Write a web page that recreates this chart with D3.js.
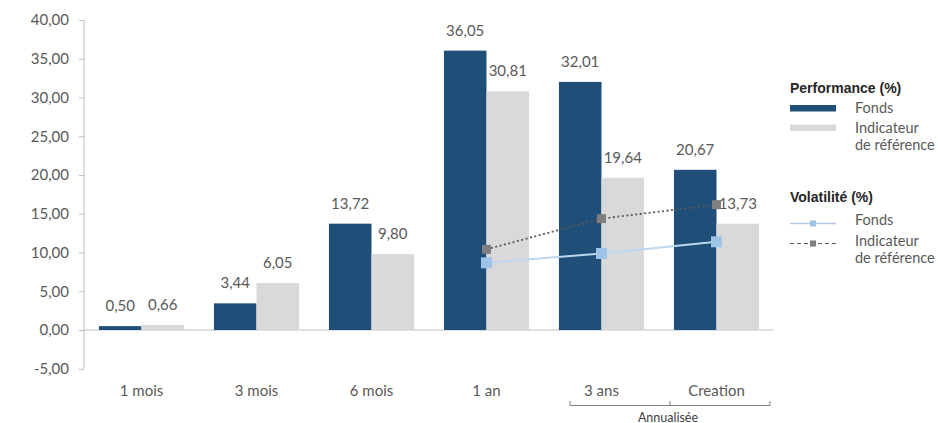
<!DOCTYPE html>
<html>
<head>
<meta charset="utf-8">
<script src="https://cdn.jsdelivr.net/npm/d3@7"></script>
<style>
  html, body { margin: 0; padding: 0; background: #fff; }
  svg { display: block; }
</style>
</head>
<body>
<svg id="chart" width="938" height="423"></svg>
<script>
// Periods shown on the x axis
const categories = ["1 mois", "3 mois", "6 mois", "1 an", "3 ans", "Creation"];
// Performance (%) per period
const perfFonds = [0.50, 3.44, 13.72, 36.05, 32.01, 20.67];
const perfIndicateur = [0.66, 6.05, 9.80, 30.81, 19.64, 13.73];
// Volatility (%) — only reported from 1 year onward
const volFonds = [null, null, null, 8.67, 9.87, 11.38];
const volIndicateur = [null, null, null, 10.41, 14.37, 16.17];
// Y axis ticks
const yTicks = [-5, 0, 5, 10, 15, 20, 25, 30, 35, 40];

const fmt = v => v.toFixed(2).replace(".", ",");
const FONT = "Lato, 'Open Sans', sans-serif";
const TXT = "#595959";
const C_FONDS = "#1f4e79";
const C_IND = "#d9d9d9";
const C_VOLF = "#9dc3e6";
const C_VOLI = "#7f7f7f";

const svg = d3.select("#chart");

const x = d3.scaleBand().domain(categories).range([84, 774]).paddingInner(0.26).paddingOuter(0.13);
const x0 = d3.scaleBand().domain(categories).range([84, 774]);
const sub = d3.scaleBand().domain(["f", "i"]).range([0, x.bandwidth()]);
const y = d3.scaleLinear().domain([-5, 40]).range([368.75, 20]);

// Y axis
const yAxis = svg.append("g").attr("transform", "translate(84,0)")
  .call(d3.axisLeft(y).tickValues(yTicks).tickFormat(fmt).tickSize(5).tickPadding(10));
yAxis.select(".domain").attr("stroke", "#bfbfbf").attr("d", `M0,${y(-5)}V${y(40)}`);
yAxis.selectAll(".tick line").attr("stroke", "#bfbfbf");
yAxis.selectAll(".tick text").attr("fill", TXT).style("font-family", FONT).style("font-size", "15px");

// Zero baseline
svg.append("line").attr("x1", 84).attr("x2", 774).attr("y1", y(0)).attr("y2", y(0))
  .attr("stroke", "#bfbfbf").attr("stroke-width", 1);

// Bars
const groups = svg.append("g").selectAll("g").data(categories).join("g")
  .attr("transform", d => `translate(${x(d)},0)`);

const series = [
  { key: "f", values: perfFonds, color: C_FONDS },
  { key: "i", values: perfIndicateur, color: C_IND }
];

series.forEach(s => {
  groups.append("rect")
    .attr("x", sub(s.key))
    .attr("width", sub.bandwidth())
    .attr("y", (d, i) => y(Math.max(0, s.values[i])))
    .attr("height", (d, i) => Math.abs(y(s.values[i]) - y(0)))
    .attr("fill", s.color);
});

// Volatility lines
const cx = d => x0(d) + x0.bandwidth() / 2;
const volSeries = [
  { values: volIndicateur, color: "#595959", dash: "2,2.5", width: 1.8, marker: C_VOLI, size: 9 },
  { values: volFonds, color: "#bdd7ee", dash: null, width: 2, marker: C_VOLF, size: 11 }
];

// Bar value labels
series.forEach(s => {
  groups.append("text")
    .attr("x", sub(s.key) + sub.bandwidth() / 2)
    .attr("y", (d, i) => y(Math.max(0, s.values[i])) - 15)
    .attr("text-anchor", "middle")
    .attr("fill", TXT)
    .style("font-family", FONT).style("font-size", "15px")
    .text((d, i) => fmt(s.values[i]));
});

volSeries.forEach(s => {
  const pts = categories.map((c, i) => ({ c, v: s.values[i] })).filter(p => p.v != null);
  const line = d3.line().x(p => cx(p.c)).y(p => y(p.v));
  svg.append("path").datum(pts).attr("d", line)
    .attr("fill", "none").attr("stroke", s.color).attr("stroke-width", s.width)
    .attr("stroke-dasharray", s.dash);
  svg.append("g").selectAll("rect").data(pts).join("rect")
    .attr("x", p => cx(p.c) - s.size / 2).attr("y", p => y(p.v) - s.size / 2)
    .attr("width", s.size).attr("height", s.size)
    .attr("fill", s.marker);
});

// Category labels
svg.append("g").selectAll("text").data(categories).join("text")
  .attr("x", d => cx(d)).attr("y", 396)
  .attr("text-anchor", "middle").attr("fill", TXT)
  .style("font-family", FONT).style("font-size", "15px")
  .text(d => d);

// Bracket grouping the annualised periods
const bx1 = x0("3 ans") + 26, bx2 = x0("Creation") + x0.bandwidth() - 4, bm = x0("Creation") + 11;
svg.append("path")
  .attr("d", `M${bx1},401V405.5H${bx2}V401M${bm},401V405.5`)
  .attr("fill", "none").attr("stroke", "#7f7f7f").attr("stroke-width", 1);
svg.append("text").attr("x", bm - 2).attr("y", 421.5).attr("text-anchor", "middle")
  .attr("fill", "#404040").style("font-family", FONT).style("font-size", "12.5px")
  .text("Annualisée");

// Legend
const leg = svg.append("g");
const titleStyle = t => t.attr("fill", "#262626")
  .style("font-family", "'Liberation Sans', Arial, sans-serif")
  .style("font-size", "14px").style("font-weight", "bold");
const itemStyle = t => t.attr("fill", TXT).style("font-family", FONT).style("font-size", "14.5px");

leg.append("text").attr("x", 790).attr("y", 93).text("Performance (%)").call(titleStyle);
leg.append("rect").attr("x", 790).attr("y", 105).attr("width", 46).attr("height", 6.5).attr("fill", C_FONDS);
leg.append("text").attr("x", 855).attr("y", 112.5).text("Fonds").call(itemStyle);
leg.append("rect").attr("x", 790).attr("y", 124.5).attr("width", 46).attr("height", 6.5).attr("fill", C_IND);
leg.append("text").attr("x", 855).attr("y", 132.5).text("Indicateur").call(itemStyle);
leg.append("text").attr("x", 855).attr("y", 149.5).text("de référence").call(itemStyle);

leg.append("text").attr("x", 790).attr("y", 202).text("Volatilité (%)").call(titleStyle);
leg.append("line").attr("x1", 790).attr("x2", 836).attr("y1", 223.5).attr("y2", 223.5)
  .attr("stroke", "#b4c7e7").attr("stroke-width", 1.5);
leg.append("rect").attr("x", 810).attr("y", 220.5).attr("width", 6).attr("height", 6).attr("fill", C_VOLF);
leg.append("text").attr("x", 855).attr("y", 225).text("Fonds").call(itemStyle);
leg.append("line").attr("x1", 790).attr("x2", 836).attr("y1", 243.5).attr("y2", 243.5)
  .attr("stroke", "#595959").attr("stroke-width", 1).attr("stroke-dasharray", "4,3");
leg.append("rect").attr("x", 810).attr("y", 240.5).attr("width", 6).attr("height", 6).attr("fill", C_VOLI);
leg.append("text").attr("x", 855).attr("y", 246).text("Indicateur").call(itemStyle);
leg.append("text").attr("x", 855).attr("y", 263).text("de référence").call(itemStyle);
</script>
</body>
</html>
